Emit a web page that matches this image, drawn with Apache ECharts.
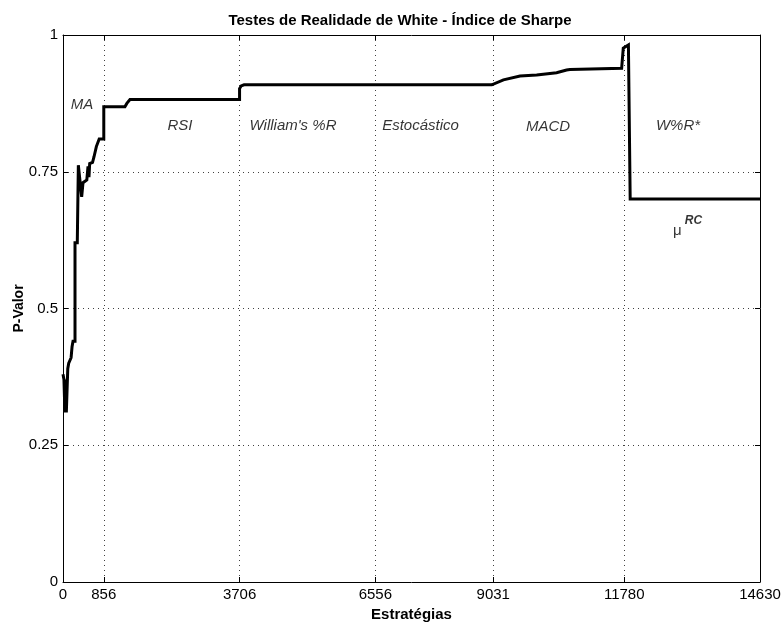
<!DOCTYPE html>
<html>
<head>
<meta charset="utf-8">
<script src="https://cdn.jsdelivr.net/npm/echarts@6/dist/echarts.min.js"></script>
<style>
  html, body { margin: 0; padding: 0; background: #fff; }
  #chart { width: 782px; height: 629px; }
</style>
</head>
<body>
<div id="chart"></div>
<script>
// Cumulative p-value of White's Reality Check across the ordered strategy set
const strategyIndex = [0, 20, 40, 55, 70, 100, 120, 170, 190, 210, 252, 252, 300, 322, 322, 392, 420, 500, 525, 545, 560, 580, 620, 650, 700, 760, 856, 856, 1300, 1340, 1406, 3706, 3706, 3740, 3800, 9000, 9245, 9593, 9942, 10360, 10570, 10640, 11726, 11747, 11760, 11868, 11905, 11905, 14630];
const pValue        = [0.38, 0.37, 0.31, 0.37, 0.31, 0.39, 0.40, 0.41, 0.43, 0.44, 0.44, 0.62, 0.62, 0.62, 0.762, 0.704, 0.73, 0.735, 0.76, 0.74, 0.765, 0.765, 0.767, 0.777, 0.796, 0.81, 0.81, 0.869, 0.869, 0.875, 0.882, 0.882, 0.902, 0.907, 0.909, 0.909, 0.918, 0.925, 0.927, 0.931, 0.936, 0.937, 0.939, 0.939, 0.976, 0.982, 0.98, 0.70, 0.70];

// Axis ticks: boundaries of each indicator family
const xTicks = [0, 856, 3706, 6556, 9031, 11780, 14630];
const yTicks = [0, 0.25, 0.5, 0.75, 1];

// Family names written inside the plot, anchored in data units
const familyNames = ['MA', 'RSI', "William's %R", 'Estocástico', 'MACD', 'W%R*'];
const familyX     = [399, 2456, 4828, 7504, 10181, 12909];
const familyY     = [0.873, 0.834, 0.834, 0.834, 0.832, 0.834];

const FONT = 'Liberation Sans, Arial, Helvetica, sans-serif';

const curve = strategyIndex.map((x, i) => [x, pValue[i]]);
const labelPoints = familyNames.map((n, i) => ({ value: [familyX[i], familyY[i]], name: n }));
labelPoints.push({ value: [13110, 0.65], name: 'mu', muLabel: true });

const gridDot = { show: true, lineStyle: { color: '#000', type: [1, 4], width: 1, opacity: 0.75 } };
const axisLineBlack = { show: true, onZero: false, lineStyle: { color: '#000', width: 1 } };

const chart = echarts.init(document.getElementById('chart'), null, { renderer: 'canvas' });
chart.setOption({
  animation: false,
  backgroundColor: '#fff',
  title: {
    text: 'Testes de Realidade de White - Índice de Sharpe',
    left: 395, top: 8, textAlign: 'center',
    textStyle: { fontFamily: FONT, fontSize: 15, fontWeight: 'bold', color: '#000' }
  },
  grid: { left: 63, right: 22, top: 35, bottom: 47, containLabel: false, outerBoundsMode: 'none' },
  xAxis: [
    {
      type: 'value', position: 'bottom', min: 0, max: 14630,
      name: 'Estratégias', nameLocation: 'middle', nameGap: 25,
      nameTextStyle: { fontFamily: FONT, fontSize: 15, fontWeight: 'bold', color: '#000' },
      axisLine: axisLineBlack,
      axisTick: { show: true, inside: true, length: 5, customValues: xTicks, lineStyle: { color: '#000' } },
      axisLabel: { customValues: xTicks, fontFamily: FONT, fontSize: 15, color: '#000', margin: 5,
        showMinLabel: true, showMaxLabel: true, hideOverlap: false, formatter: v => String(v) },
      splitLine: gridDot
    },
    {
      type: 'value', position: 'top', min: 0, max: 14630,
      axisLine: axisLineBlack,
      axisTick: { show: true, inside: true, length: 5, customValues: xTicks, lineStyle: { color: '#000' } },
      axisLabel: { show: false },
      splitLine: { show: false }
    }
  ],
  yAxis: [
    {
      type: 'value', position: 'left', min: 0, max: 1, interval: 0.25,
      name: 'P-Valor', nameLocation: 'middle', nameGap: 37, nameRotate: 90, nameMoveOverlap: false,
      nameTextStyle: { fontFamily: FONT, fontSize: 14, fontWeight: 'bold', color: '#000' },
      axisLine: axisLineBlack,
      axisTick: { show: true, inside: true, length: 5, lineStyle: { color: '#000' } },
      axisLabel: { fontFamily: FONT, fontSize: 15, color: '#000', margin: 5,
        formatter: v => String(yTicks.find(t => Math.abs(t - v) < 1e-9) ?? v) },
      splitLine: gridDot
    },
    {
      type: 'value', position: 'right', min: 0, max: 1, interval: 0.25,
      axisLine: axisLineBlack,
      axisTick: { show: true, inside: true, length: 5, lineStyle: { color: '#000' } },
      axisLabel: { show: false },
      splitLine: { show: false }
    }
  ],
  series: [
    {
      type: 'line', xAxisIndex: 0, yAxisIndex: 0,
      data: curve, showSymbol: false, symbol: 'none',
      lineStyle: { color: '#000', width: 3, join: 'miter' },
      z: 5
    },
    {
      type: 'scatter', xAxisIndex: 0, yAxisIndex: 0,
      symbolSize: 0, silent: true,
      data: labelPoints,
      label: {
        show: true, position: 'inside',
        fontFamily: FONT, fontSize: 15, fontStyle: 'italic', color: '#000',
        formatter: p => p.data.muLabel ? '{mu|μ}{sup|RC}' : p.data.name,
        rich: {
          mu: { fontFamily: FONT, fontSize: 15, fontStyle: 'normal', color: '#000', verticalAlign: 'bottom', padding: [8, 0, 0, 0] },
          sup: { fontFamily: FONT, fontSize: 12, fontWeight: 'bold', fontStyle: 'italic', color: '#000', verticalAlign: 'top', padding: [0, 0, 10, 3] }
        }
      },
      z: 6
    }
  ]
});
</script>
</body>
</html>
